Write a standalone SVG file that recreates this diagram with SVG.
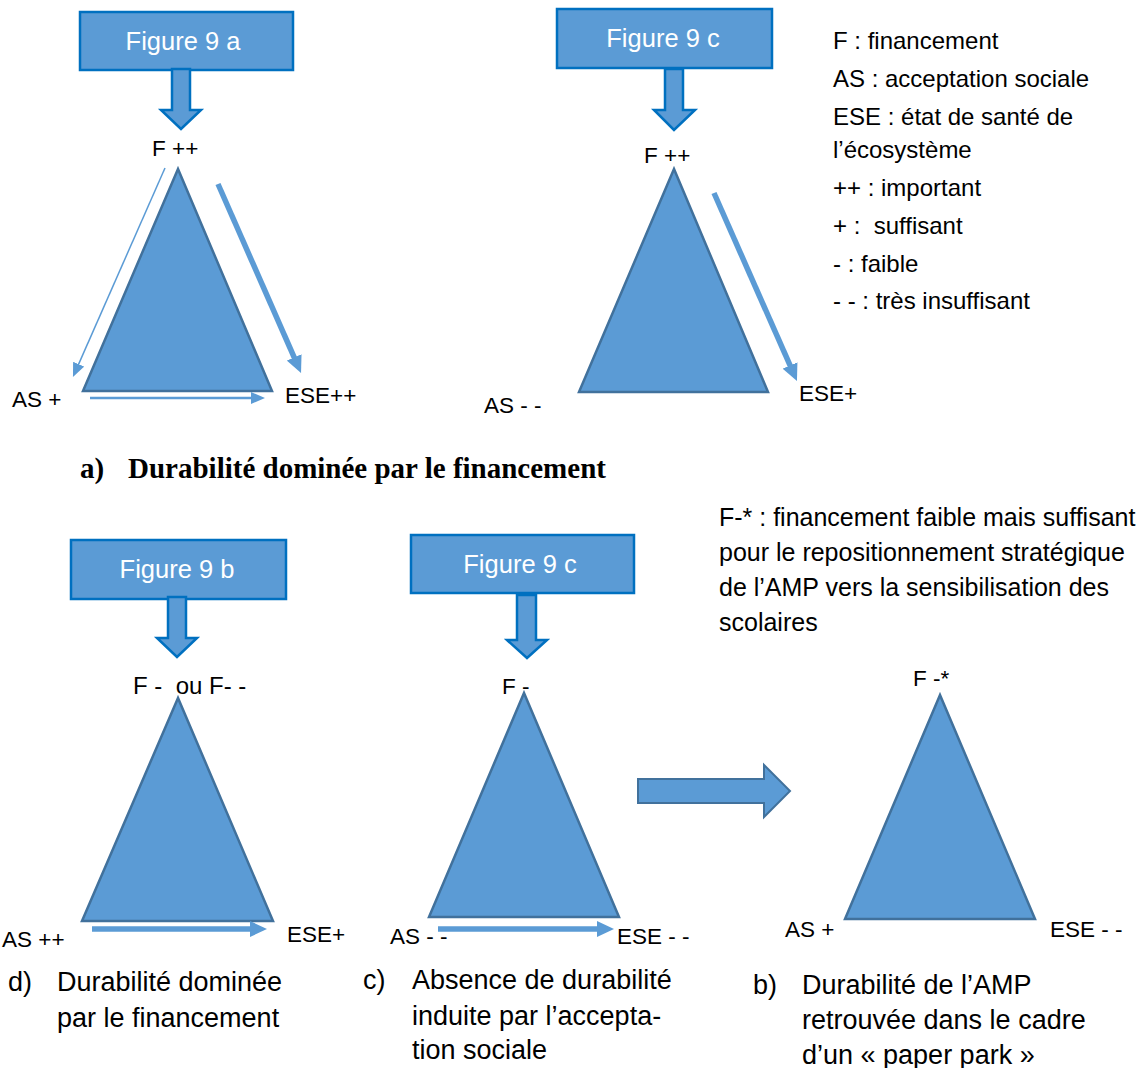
<svg xmlns="http://www.w3.org/2000/svg" width="1139" height="1068" viewBox="0 0 1139 1068">
<style>
text{white-space:pre}
.box{fill:#5B9BD5;stroke:#0070C0;stroke-width:2.5}
.bt{fill:#fff;font-family:"Liberation Sans",Arial,sans-serif;font-size:25.5px;text-anchor:middle}
.tri{fill:#5B9BD5;stroke:#41719C;stroke-width:2.5;stroke-linejoin:miter}
.lb{fill:#000;font-family:"Liberation Sans",Arial,sans-serif;font-size:22.5px}
.lg{fill:#000;font-family:"Liberation Sans",Arial,sans-serif;font-size:24px}
.nt{fill:#000;font-family:"Liberation Sans",Arial,sans-serif;font-size:25px}
.cap{fill:#000;font-family:"Liberation Sans",Arial,sans-serif;font-size:27px}
.hd{fill:#000;font-family:"Liberation Serif","Times New Roman",serif;font-size:29px;font-weight:bold}
.thin{stroke:#5B9BD5;stroke-width:1.5;fill:none}
.mid{stroke:#5B9BD5;stroke-width:2.5;fill:none}
.thick{stroke:#5B9BD5;stroke-width:5.5;fill:none}
.blk{fill:#5B9BD5;stroke:#41719C;stroke-width:2}
</style>
<defs>
<marker id="hs" markerUnits="userSpaceOnUse" markerWidth="14" markerHeight="12" viewBox="0 0 14 12" refX="1" refY="6" orient="auto"><path d="M0,0 L14,6 L0,12 Z" fill="#5B9BD5"/></marker>
<marker id="hb" markerUnits="userSpaceOnUse" markerWidth="17" markerHeight="16" viewBox="0 0 17 16" refX="1" refY="8" orient="auto"><path d="M0,0 L17,8 L0,16 Z" fill="#5B9BD5"/></marker>
</defs>
<rect width="1139" height="1068" fill="#fff"/>

<g id="fig9a">
<rect class="box" x="80" y="12" width="213" height="58"/>
<text class="bt" x="183" y="50">Figure 9 a</text>
<path class="box" d="M172,69 L190,69 L190,110 L201,110 L181,129 L161,110 L172,110 Z"/>
</g>
<g id="triA">
<polygon class="tri" points="178,169 83,391 272,391"/>
<text class="lb" x="152" y="156">F ++</text>
<text class="lb" x="12" y="407">AS +</text>
<text class="lb" x="285" y="403">ESE++</text>
</g>

<g id="fig9c-top">
<rect class="box" x="557" y="9" width="215" height="59"/>
<text class="bt" x="663" y="47">Figure 9 c</text>
<path class="box" d="M665,69 L683,69 L683,110 L695,110 L674,130 L654,110 L665,110 Z"/>
</g>
<g id="triC1">
<polygon class="tri" points="674,169 579,392 768,392"/>
<text class="lb" x="644" y="163">F ++</text>
<text class="lb" x="484" y="413">AS - -</text>
<text class="lb" x="799" y="401">ESE+</text>
</g>

<g id="legend">
<text class="lg" x="833" y="49">F : financement</text>
<text class="lg" x="833" y="87">AS : acceptation sociale</text>
<text class="lg" x="833" y="125">ESE : état de santé de</text>
<text class="lg" x="833" y="158">l’écosystème</text>
<text class="lg" x="833" y="196">++ : important</text>
<text class="lg" x="833" y="234">+ :  suffisant</text>
<text class="lg" x="833" y="272">- : faible</text>
<text class="lg" x="833" y="309">- - : très insuffisant</text>
</g>

<g id="heading">
<text class="hd" x="80" y="478">a)</text>
<text class="hd" x="128" y="478">Durabilité dominée par le financement</text>
</g>

<g id="note">
<text class="nt" x="719" y="526">F-* : financement faible mais suffisant</text>
<text class="nt" x="719" y="561">pour le repositionnement stratégique</text>
<text class="nt" x="719" y="596">de l’AMP vers la sensibilisation des</text>
<text class="nt" x="719" y="631">scolaires</text>
</g>

<g id="fig9b">
<rect class="box" x="71" y="540" width="215" height="59"/>
<text class="bt" x="177" y="578">Figure 9 b</text>
<path class="box" d="M168,597 L186,597 L186,638 L197,638 L177,657 L157,638 L168,638 Z"/>
</g>
<g id="triD">
<polygon class="tri" points="178,698 82,921 273,921"/>
<text class="lb" x="133" y="694" style="font-size:24px">F -  ou F- -</text>
<text class="lb" x="2" y="947">AS ++</text>
<text class="lb" x="287" y="942">ESE+</text>
</g>

<g id="fig9c-bottom">
<rect class="box" x="411" y="535" width="223" height="58"/>
<text class="bt" x="520" y="573">Figure 9 c</text>
<path class="box" d="M517,595 L536,595 L536,640 L547,640 L527,658 L507,640 L517,640 Z"/>
</g>
<g id="triC2">
<polygon class="tri" points="524,693 429,917 619,917"/>
<text class="lb" x="502" y="694">F -</text>
<text class="lb" x="390" y="944">AS - -</text>
<text class="lb" x="617" y="944">ESE - -</text>
</g>

<g id="triB">
<polygon class="tri" points="940,695 845,919 1035,919"/>
<text class="lb" x="913" y="686">F -*</text>
<text class="lb" x="785" y="937">AS +</text>
<text class="lb" x="1050" y="937">ESE - -</text>
</g>

<g id="captions">
<text class="cap" x="8" y="991">d)</text>
<text class="cap" x="57" y="991">Durabilité dominée</text>
<text class="cap" x="57" y="1027">par le financement</text>
<text class="cap" x="363" y="989">c)</text>
<text class="cap" x="412" y="989">Absence de durabilité</text>
<text class="cap" x="412" y="1025">induite par l’accepta-</text>
<text class="cap" x="412" y="1059">tion sociale</text>
<text class="cap" x="753" y="994">b)</text>
<text class="cap" x="802" y="994">Durabilité de l’AMP</text>
<text class="cap" x="802" y="1029">retrouvée dans le cadre</text>
<text class="cap" x="802" y="1064">d’un « paper park »</text>
</g>

<g id="connectors">
<line class="thin" x1="165" y1="168" x2="78.2" y2="365.1" marker-end="url(#hs)"/>
<line class="thick" x1="218" y1="184" x2="294.6" y2="358.3" marker-end="url(#hb)"/>
<line class="mid" x1="90" y1="398" x2="252" y2="398" marker-end="url(#hs)"/>
<line class="thick" x1="714" y1="193" x2="790.5" y2="366.4" marker-end="url(#hb)"/>
<line class="thick" x1="92" y1="929" x2="251" y2="929" marker-end="url(#hb)"/>
<line class="thick" x1="438" y1="929" x2="598" y2="929" marker-end="url(#hb)"/>
<path class="blk" d="M638,779 L764,779 L764,765 L790,791 L764,817 L764,803 L638,803 Z"/>
</g>
</svg>
